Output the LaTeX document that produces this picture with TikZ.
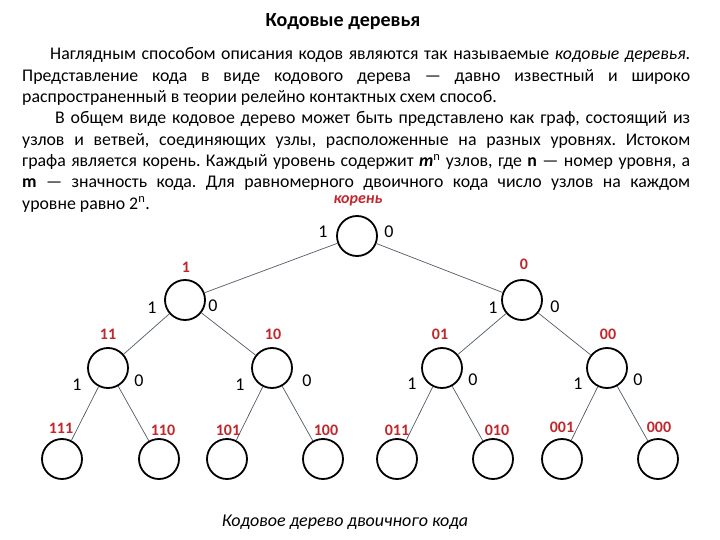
\documentclass[tikz,border=0pt]{standalone}
\usepackage{fontspec}
\setmainfont{Carlito}
\frenchspacing
\definecolor{codered}{HTML}{C0282E}
\definecolor{edgegray}{HTML}{505A66}
\begin{document}
\begin{tikzpicture}[x=1pt,y=-1pt,
  nodecirc/.style={circle,draw=black,line width=1.8pt,minimum size=40pt,inner sep=0pt},
  edge/.style={draw=edgegray,line width=0.7pt},
  bit/.style={font=\fontsize{18}{20}\selectfont,inner sep=0pt},
  code/.style={font=\fontsize{16}{18}\selectfont\bfseries,text=codered,inner sep=0pt},
  bodyline/.style={anchor=base west,inner sep=0pt,font=\fontsize{17.8}{20}\selectfont}]
\useasboundingbox (0,0) rectangle (720,540);
\fill[white] (0,0) rectangle (720,540);
% title
\node[font=\fontsize{20}{22}\selectfont\bfseries,inner sep=0pt] (title) at (343,22) {Кодовые деревья};
% body text
\node[bodyline] (l1) at (50,60) {\makebox[640pt][s]{Наглядным способом описания кодов являются так называемые \textit{кодовые деревья}.}};
\node[bodyline] (l2) at (22,81.3) {\makebox[668pt][s]{Представление кода в виде кодового дерева — давно известный и широко}};
\node[bodyline] (l3) at (22,102.6) {распространенный в теории релейно контактных схем способ.};
\node[bodyline] (l4) at (55,123.9) {\makebox[635pt][s]{В общем виде кодовое дерево может быть представлено как граф, состоящий из}};
\node[bodyline] (l5) at (22,145.2) {\makebox[668pt][s]{узлов и ветвей, соединяющих узлы, расположенные на разных уровнях. Истоком}};
\node[bodyline] (l6) at (22,166.5) {\makebox[668pt][s]{графа является корень. Каждый уровень содержит \textbf{\textit{m}}\textsuperscript{n} узлов, где \textbf{n} — номер уровня, а}};
\node[bodyline] (l7) at (22,187.8) {\makebox[668pt][s]{\textbf{m} — значность кода. Для равномерного двоичного кода число узлов на каждом}};
\node[bodyline] (l8) at (22,209.1) {уровне равно 2\textsuperscript{n}.};
% tree nodes
\node[nodecirc] (r) at (357,236) {};
\node[nodecirc] (n1) at (185,300) {};
\node[nodecirc] (n0) at (522,300) {};
\node[nodecirc] (n11) at (108,368) {};
\node[nodecirc] (n10) at (272,368) {};
\node[nodecirc] (n01) at (442,368) {};
\node[nodecirc] (n00) at (607,368) {};
\node[nodecirc] (n111) at (62,459) {};
\node[nodecirc] (n110) at (159,459) {};
\node[nodecirc] (n101) at (227,459) {};
\node[nodecirc] (n100) at (323,459) {};
\node[nodecirc] (n011) at (397,459) {};
\node[nodecirc] (n010) at (493,459) {};
\node[nodecirc] (n001) at (562,459) {};
\node[nodecirc] (n000) at (658,459) {};
% edges
\draw[edge] (r) -- (n1);
\draw[edge] (r) -- (n0);
\draw[edge] (n1) -- (n11);
\draw[edge] (n1) -- (n10);
\draw[edge] (n0) -- (n01);
\draw[edge] (n0) -- (n00);
\draw[edge] (n11) -- (n111);
\draw[edge] (n11) -- (n110);
\draw[edge] (n10) -- (n101);
\draw[edge] (n10) -- (n100);
\draw[edge] (n01) -- (n011);
\draw[edge] (n01) -- (n010);
\draw[edge] (n00) -- (n001);
\draw[edge] (n00) -- (n000);
% branch bits
\node[bit] (br1) at (323,232) {1};
\node[bit] (br0) at (389,232) {0};
\node[bit] (b1a) at (152,308) {1};
\node[bit] (b1b) at (213,306) {0};
\node[bit] (b0a) at (493,308) {1};
\node[bit] (b0b) at (555,307) {0};
\node[bit] (b11a) at (77,385) {1};
\node[bit] (b11b) at (139,381) {0};
\node[bit] (b10a) at (240,385) {1};
\node[bit] (b10b) at (307,381) {0};
\node[bit] (b01a) at (412,384) {1};
\node[bit] (b01b) at (473,380) {0};
\node[bit] (b00a) at (578,384) {1};
\node[bit] (b00b) at (638,380) {0};
% code labels
\node[code,font=\fontsize{16}{18}\selectfont\bfseries\itshape] (kroot) at (358,201) {корень};
\node[code] (c1) at (186,267) {1};
\node[code] (c0) at (524,264) {0};
\node[code] (c11) at (108,334) {11};
\node[code] (c10) at (273,334) {10};
\node[code] (c01) at (440,334) {01};
\node[code] (c00) at (608,334) {00};
\node[code] (c111) at (61,428) {111};
\node[code] (c110) at (163,430) {110};
\node[code] (c101) at (228,430) {101};
\node[code] (c100) at (326,430) {100};
\node[code] (c011) at (397,430) {011};
\node[code] (c010) at (497,430) {010};
\node[code] (c001) at (562,427) {001};
\node[code] (c000) at (659,427) {000};
% caption
\node[font=\fontsize{18}{20}\selectfont\itshape,inner sep=0pt] (cap) at (345,522) {Кодовое дерево двоичного кода};
\end{tikzpicture}
\end{document}
